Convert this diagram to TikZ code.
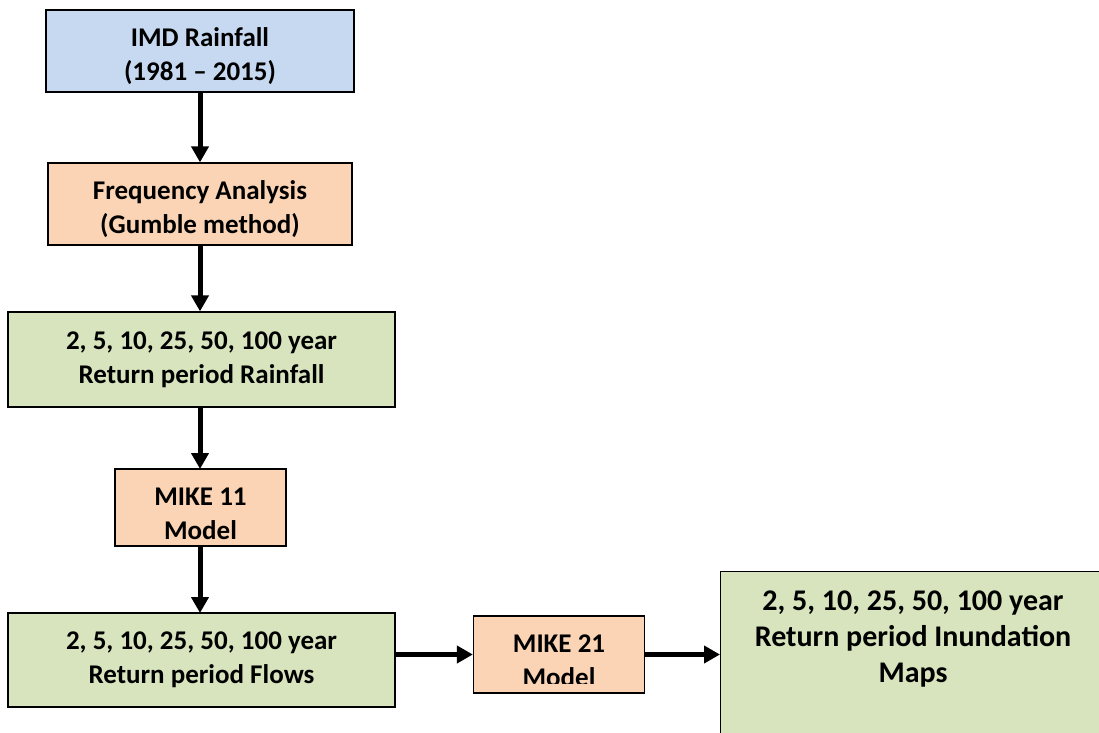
\documentclass[tikz,border=0pt]{standalone}
\usepackage{fontspec}
\setmainfont{Carlito}
\usetikzlibrary{arrows.meta}
\definecolor{blueF}{HTML}{C6D9F1}
\definecolor{orangeF}{HTML}{FAD4B4}
\definecolor{greenF}{HTML}{D7E4BD}
\newcommand{\lowstrut}{\rule{0pt}{30pt}}
\begin{document}
\begin{tikzpicture}[x=1pt,y=-1pt,
  box/.style={draw=black,line width=1.3pt,inner sep=0pt,align=center,
    font=\bfseries\fontsize{27}{34}\selectfont},
  bigtext/.style={inner sep=0pt,align=center,font=\bfseries\fontsize{30}{36}\selectfont},
  arr/.style={line width=5pt,-{Triangle[length=16pt,width=17pt]}}]
\useasboundingbox (0,0) rectangle (1099,732);
\node[box,fill=blueF,minimum width=308pt,minimum height=82pt] (a) at (200,51) {\lowstrut IMD Rainfall\\(1981 – 2015)};
\node[box,fill=orangeF,minimum width=304pt,minimum height=82pt] (b) at (200,204) {\lowstrut Frequency Analysis\\(Gumble method)};
\node[box,fill=greenF,minimum width=387pt,minimum height=95pt] (c) at (201.5,359.5) {2, 5, 10, 25, 50, 100 year\\Return period Rainfall};
\node[box,fill=orangeF,minimum width=171pt,minimum height=77pt] (d) at (200.5,507.5) {\lowstrut MIKE 11\\Model};
\node[box,fill=greenF,minimum width=387pt,minimum height=94pt] (e) at (201.5,660) {2, 5, 10, 25, 50, 100 year\\Return period Flows};
\node[box,fill=orangeF,minimum width=171pt,minimum height=77pt] (f) at (559,654.5) {};
\begin{scope}
  \clip (474,617) rectangle (644,683);
  \node[box,draw=none,fill=none] (ft) at (559,661) {MIKE 21\\Model};
\end{scope}
\node[box,fill=greenF,minimum width=386pt,minimum height=189pt,anchor=north west] (g) at (720,571) {};
\node[bigtext] (gt) at (913,639) {2, 5, 10, 25, 50, 100 year\\Return period Inundation\\Maps};
\draw[arr] (a.south) -- (a.south |- b.north);
\draw[arr] (b.south) -- (b.south |- c.north);
\draw[arr] (200,407) -- (200,469);
\draw[arr] (200,546) -- (200,613);
\draw[arr] (e.east |- f.west) -- (f.west);
\draw[arr] (f.east) -- (f.east -| g.west);
\end{tikzpicture}
\end{document}
